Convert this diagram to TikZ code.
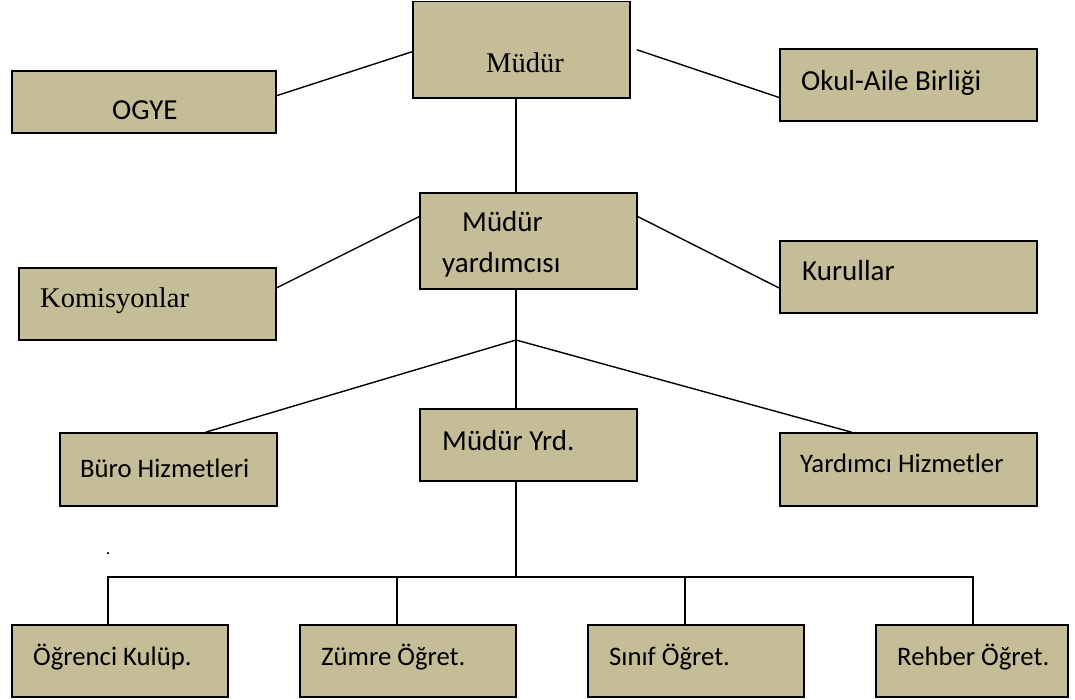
\documentclass[tikz,border=0pt]{standalone}
\usepackage{fontspec}
\setmainfont{Carlito}
\newfontfamily\serifx{Liberation Serif}
\usetikzlibrary{calc}
\definecolor{boxtan}{HTML}{C4BD97}
\begin{document}
\begin{tikzpicture}[x=1pt,y=-1pt,
  box/.style={draw=black, fill=boxtan, line width=1.6pt, rectangle, inner sep=0pt},
  conn/.style={draw=black, line width=1.4pt},
  lbl/.style={anchor=base west, inner sep=0pt, font=\fontsize{29}{35}\selectfont},
  smlbl/.style={anchor=base west, inner sep=0pt, font=\fontsize{26.7}{32}\selectfont},
  slbl/.style={anchor=base west, inner sep=0pt, font=\serifx\fontsize{28.5}{34}\selectfont}]
\useasboundingbox (0,0) rectangle (1075,700);
% boxes
\node[box, minimum width=217pt, minimum height=96.5pt] (mudur) at (521.5,49.75) {};
\node[box, minimum width=264pt, minimum height=62pt] (ogye) at (144,102) {};
\node[box, minimum width=257pt, minimum height=72pt] (okul) at (908.5,85) {};
\node[box, minimum width=217pt, minimum height=96pt] (myard) at (528.5,241) {};
\node[box, minimum width=257pt, minimum height=72pt] (komis) at (147.5,304) {};
\node[box, minimum width=257pt, minimum height=72pt] (kurul) at (908.5,277) {};
\node[box, minimum width=217pt, minimum height=73pt] (buro) at (168.5,469.5) {};
\node[box, minimum width=217pt, minimum height=72pt] (myrd) at (528.5,445) {};
\node[box, minimum width=257pt, minimum height=73pt] (yard) at (908.5,469.5) {};
\node[box, minimum width=216pt, minimum height=72pt] (ogr) at (120,661) {};
\node[box, minimum width=216pt, minimum height=72pt] (zum) at (408,661) {};
\node[box, minimum width=216pt, minimum height=72pt] (sin) at (696,661) {};
\node[box, minimum width=192pt, minimum height=72pt] (reh) at (972,661) {};
% texts
\node[slbl] (tmudur) at (486,73) {Müdür};
\node[lbl] (togye) at (112,120) {OGYE};
\node[lbl] (tokul) at (801,91) {Okul-Aile Birliği};
\node[lbl] (tmy1) at (462,232) {Müdür};
\node[lbl] (tmy2) at (442,273) {yardımcısı};
\node[slbl] (tkomis) at (40,307) {Komisyonlar};
\node[lbl] (tkurul) at (802,281) {Kurullar};
\node[smlbl] (tburo) at (80,477) {Büro Hizmetleri};
\node[lbl] (tmyrd) at (442,450) {Müdür Yrd.};
\node[smlbl] (tyard) at (800,472) {Yardımcı Hizmetler};
\node[smlbl] (togr) at (33,665) {Öğrenci Kulüp.};
\node[smlbl] (tzum) at (321,665) {Zümre Öğret.};
\node[smlbl] (tsin) at (609,665) {Sınıf Öğret.};
\node[smlbl] (treh) at (897,665) {Rehber Öğret.};
\node[circle, fill=black, inner sep=0pt, minimum size=2.5pt] (dot) at (108,553) {};
% connectors
\coordinate (J) at (516,340);
\coordinate (bus) at (516,577);
\coordinate (b1) at (108,577);
\coordinate (b2) at (397,577);
\coordinate (b3) at (685,577);
\coordinate (b4) at (973,577);
\draw[conn] ($(mudur.north west)!0.52!(mudur.south west)$) -- ($(ogye.north east)!0.4!(ogye.south east)$);
\draw[conn] ([xshift=6pt]mudur.east) -- ($(okul.north west)!0.67!(okul.south west)$);
\draw[conn] (mudur.south -| J) -- (myard.north -| J);
\draw[conn] ($(myard.north west)!0.25!(myard.south west)$) -- ($(komis.north east)!0.28!(komis.south east)$);
\draw[conn] ($(myard.north east)!0.25!(myard.south east)$) -- ($(kurul.north west)!0.65!(kurul.south west)$);
\draw[conn] (myard.south -| J) -- (J) -- (myrd.north -| J);
\draw[conn] (J) -- ($(buro.north west)!0.67!(buro.north east)$);
\draw[conn] (J) -- ($(yard.north west)!0.28!(yard.north east)$);
\draw[conn] (myrd.south -| J) -- (bus);
\draw[conn] (ogr.north -| b1) -- (b1) -- (b4) -- (reh.north -| b4);
\draw[conn] (b2) -- (zum.north -| b2);
\draw[conn] (b3) -- (sin.north -| b3);
\end{tikzpicture}
\end{document}
